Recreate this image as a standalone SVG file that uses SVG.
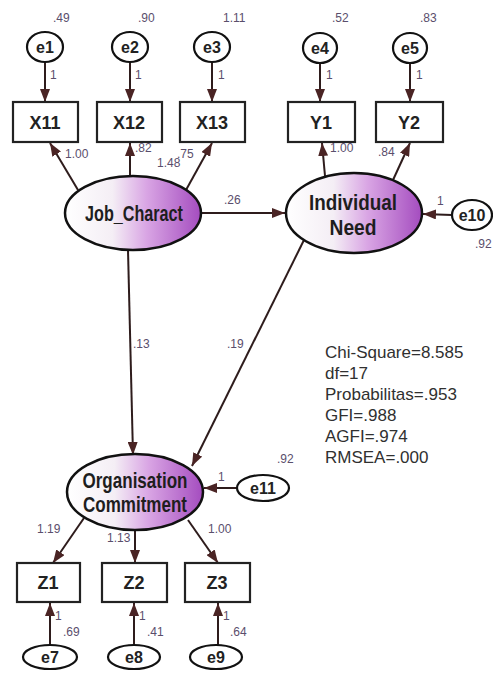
<svg xmlns="http://www.w3.org/2000/svg" width="493" height="673" viewBox="0 0 493 673">
<defs>
<linearGradient id="lat" x1="0" y1="0" x2="1" y2="0">
<stop offset="0" stop-color="#ffffff"/>
<stop offset="0.35" stop-color="#f4eef5"/>
<stop offset="0.6" stop-color="#d9a5e4"/>
<stop offset="1" stop-color="#a44cbf"/>
</linearGradient>
<marker id="ah" markerWidth="13" markerHeight="10" refX="13" refY="5" orient="auto" markerUnits="userSpaceOnUse">
<path d="M0,0 L13,5 L0,10 z" fill="#4a2424"/>
</marker>
<style>
.lat{fill:url(#lat);stroke:#111;stroke-width:2.5}
.err{fill:#fff;stroke:#111;stroke-width:2.2}
.box{fill:#fff;stroke:#222;stroke-width:2.2}
.conn{stroke:#2e1c1c;stroke-width:2;fill:none;marker-end:url(#ah)}
.lt{font-family:"Liberation Sans",Arial,sans-serif;font-weight:bold;font-size:22px;fill:#1e1e1e;text-anchor:middle}
.bt{font-family:"Liberation Sans",Arial,sans-serif;font-weight:bold;font-size:18px;fill:#222;text-anchor:middle}
.et{font-family:"Liberation Sans",Arial,sans-serif;font-weight:bold;font-size:16px;fill:#222;text-anchor:middle}
.v{font-family:"Liberation Sans",Arial,sans-serif;font-size:12px;fill:#5a4e6c}
.fit{font-family:"Liberation Sans",Arial,sans-serif;font-size:17px;fill:#303030}
</style>
</defs>
<rect width="493" height="673" fill="#fff"/>

<g id="connectors">
<line class="conn" x1="45" y1="62" x2="45" y2="102"/>
<line class="conn" x1="130" y1="62" x2="130" y2="102"/>
<line class="conn" x1="212" y1="62" x2="212" y2="102"/>
<line class="conn" x1="320" y1="63" x2="320" y2="102"/>
<line class="conn" x1="410" y1="63" x2="410" y2="102"/>
<line class="conn" x1="78" y1="190" x2="50" y2="143"/>
<line class="conn" x1="130" y1="176" x2="130" y2="143"/>
<line class="conn" x1="186" y1="190" x2="212" y2="143"/>
<line class="conn" x1="325" y1="176" x2="322" y2="143"/>
<line class="conn" x1="393" y1="180" x2="410" y2="143"/>
<line class="conn" x1="201" y1="213" x2="285" y2="213"/>
<line class="conn" x1="452" y1="215" x2="423" y2="214"/>
<line class="conn" x1="128" y1="250" x2="133" y2="455"/>
<line class="conn" x1="304" y1="240" x2="192" y2="466"/>
<line class="conn" x1="237" y1="488" x2="204" y2="488"/>
<line class="conn" x1="84" y1="518" x2="53" y2="563"/>
<line class="conn" x1="135" y1="530" x2="135" y2="563"/>
<line class="conn" x1="188" y1="520" x2="218" y2="563"/>
<line class="conn" x1="50" y1="645" x2="50" y2="603"/>
<line class="conn" x1="134" y1="645" x2="134" y2="603"/>
<line class="conn" x1="218" y1="645" x2="218" y2="603"/>
</g>

<g id="e1"><ellipse class="err" cx="45" cy="47" rx="18" ry="15"/><text class="et" x="45" y="53">e1</text></g>
<g id="e2"><ellipse class="err" cx="130" cy="47" rx="18" ry="15"/><text class="et" x="130" y="53">e2</text></g>
<g id="e3"><ellipse class="err" cx="212" cy="47" rx="18" ry="15"/><text class="et" x="212" y="53">e3</text></g>
<g id="e4"><ellipse class="err" cx="320" cy="48" rx="17" ry="15"/><text class="et" x="320" y="54">e4</text></g>
<g id="e5"><ellipse class="err" cx="410" cy="48" rx="17" ry="15"/><text class="et" x="410" y="54">e5</text></g>

<g id="X11"><rect class="box" x="13" y="102" width="65" height="40"/><text class="bt" x="45" y="129">X11</text></g>
<g id="X12"><rect class="box" x="97" y="102" width="65" height="40"/><text class="bt" x="129" y="129">X12</text></g>
<g id="X13"><rect class="box" x="180" y="102" width="65" height="40"/><text class="bt" x="212" y="129">X13</text></g>
<g id="Y1"><rect class="box" x="288" y="102" width="67" height="40"/><text class="bt" x="321" y="129">Y1</text></g>
<g id="Y2"><rect class="box" x="376" y="102" width="67" height="40"/><text class="bt" x="409" y="129">Y2</text></g>

<g id="Job_Charact"><ellipse class="lat" cx="133" cy="213" rx="68" ry="37"/><text class="lt" x="134" y="221" textLength="98" lengthAdjust="spacingAndGlyphs">Job_Charact</text></g>
<g id="Individual_Need"><ellipse class="lat" cx="354" cy="213" rx="68" ry="40"/><text class="lt" x="353" y="210" textLength="88" lengthAdjust="spacingAndGlyphs">Individual</text><text class="lt" x="353" y="235" textLength="47" lengthAdjust="spacingAndGlyphs">Need</text></g>
<g id="e10"><ellipse class="err" cx="472" cy="215" rx="20" ry="15"/><text class="et" x="472" y="221">e10</text></g>

<g id="Organisation_Commitment"><ellipse class="lat" cx="135" cy="492" rx="68" ry="38"/><text class="lt" x="135" y="488" textLength="105" lengthAdjust="spacingAndGlyphs">Organisation</text><text class="lt" x="135" y="512" textLength="104" lengthAdjust="spacingAndGlyphs">Commitment</text></g>
<g id="e11"><ellipse class="err" cx="263" cy="488" rx="26" ry="13"/><text class="et" x="263" y="494">e11</text></g>

<g id="Z1"><rect class="box" x="17" y="563" width="63" height="39"/><text class="bt" x="48" y="589">Z1</text></g>
<g id="Z2"><rect class="box" x="102" y="563" width="65" height="39"/><text class="bt" x="134" y="589">Z2</text></g>
<g id="Z3"><rect class="box" x="185" y="563" width="65" height="39"/><text class="bt" x="217" y="589">Z3</text></g>
<g id="e7"><ellipse class="err" cx="50" cy="657" rx="27" ry="12"/><text class="et" x="50" y="663">e7</text></g>
<g id="e8"><ellipse class="err" cx="134" cy="657" rx="26" ry="12"/><text class="et" x="134" y="663">e8</text></g>
<g id="e9"><ellipse class="err" cx="216" cy="657" rx="26" ry="12"/><text class="et" x="216" y="663">e9</text></g>

<g id="labels">
<text class="v" x="53" y="22">.49</text>
<text class="v" x="138" y="22">.90</text>
<text class="v" x="223" y="22">1.11</text>
<text class="v" x="332" y="22">.52</text>
<text class="v" x="420" y="22">.83</text>
<text class="v" x="50" y="79">1</text>
<text class="v" x="135" y="79">1</text>
<text class="v" x="218" y="79">1</text>
<text class="v" x="326" y="79">1</text>
<text class="v" x="416" y="79">1</text>
<text class="v" x="65" y="158">1.00</text>
<text class="v" x="135" y="152">.82</text>
<text class="v" x="157" y="167">1.48</text>
<text class="v" x="177" y="158">.75</text>
<text class="v" x="330" y="152">1.00</text>
<text class="v" x="378" y="156">.84</text>
<text class="v" x="224" y="204">.26</text>
<text class="v" x="437" y="205">1</text>
<text class="v" x="475" y="248">.92</text>
<text class="v" x="133" y="348">.13</text>
<text class="v" x="227" y="348">.19</text>
<text class="v" x="277" y="463">.92</text>
<text class="v" x="218" y="481">1</text>
<text class="v" x="37" y="533">1.19</text>
<text class="v" x="107" y="542">1.13</text>
<text class="v" x="208" y="533">1.00</text>
<text class="v" x="55" y="620">1</text>
<text class="v" x="63" y="636">.69</text>
<text class="v" x="139" y="620">1</text>
<text class="v" x="147" y="636">.41</text>
<text class="v" x="223" y="620">1</text>
<text class="v" x="230" y="636">.64</text>
</g>

<g id="fit">
<text class="fit" x="325" y="358">Chi-Square=8.585</text>
<text class="fit" x="325" y="379">df=17</text>
<text class="fit" x="325" y="400">Probabilitas=.953</text>
<text class="fit" x="325" y="421">GFI=.988</text>
<text class="fit" x="325" y="442">AGFI=.974</text>
<text class="fit" x="325" y="463">RMSEA=.000</text>
</g>
</svg>
